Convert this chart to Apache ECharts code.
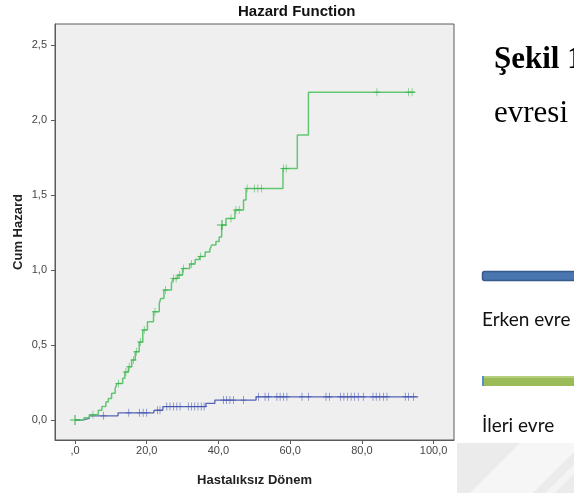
<!DOCTYPE html>
<html>
<head>
<meta charset="utf-8">
<script src="https://cdn.jsdelivr.net/npm/echarts@6/dist/echarts.min.js"></script>
<style>
html,body{margin:0;padding:0;background:#fff;}
#c{width:574px;height:493px;}
</style>
</head>
<body>
<div id="c"></div>
<script>
// ---- data ----
const chartTitle = 'Hazard Function';
const xName = 'Hastalıksız Dönem';
const yName = 'Cum Hazard';
const xTickValues = [0, 20, 40, 60, 80, 100];
const xTickLabels = [',0', '20,0', '40,0', '60,0', '80,0', '100,0'];
const yTickValues = [0, 0.5, 1.0, 1.5, 2.0, 2.5];
const yTickLabels = ['0,0', '0,5', '1,0', '1,5', '2,0', '2,5'];

// Erken evre (blue) step function: time, cumulative hazard
const blueT = [0, 2, 4, 12, 22, 24.5, 36.5, 39, 50.5, 95.7];
const blueH = [0, 0.011, 0.028, 0.048, 0.065, 0.09, 0.111, 0.133, 0.155, 0.155];
const blueCensor = [8, 15, 18, 19, 20, 23, 23.7, 25.6, 26.5, 27.5, 28.4, 29.3, 31.6, 32.5, 33.4, 34.3, 35.2, 36,
  41.4, 42.3, 43.2, 44.2, 47, 51.2, 53, 54, 56.3, 57.2, 58.1, 59.1, 63.3, 65.1, 70, 71,
  74, 75, 76, 77, 78, 79, 80.4, 83.1, 84, 85, 86, 87, 92.1, 93, 94.4];

// İleri evre (green) step function
const greenT = [0, 2.5, 4, 6.5, 7.5, 8.6, 9.3, 10.2, 11.2, 11.7, 13.3, 13.9, 14.9, 15.8, 16.8, 17.9, 18.9, 20.2, 21.9, 23.5,
  23.9, 24.8, 26.9, 27.4, 28.7, 30, 32, 33.5, 34.7, 36.3, 37.6, 38.1, 39.3, 40.2, 40.9, 42.1, 44.6, 47, 47.7, 58, 62, 65.1, 94.9];
const greenH = [0, 0.015, 0.035, 0.065, 0.09, 0.12, 0.144, 0.178, 0.21, 0.244, 0.278, 0.32, 0.355, 0.4, 0.455, 0.52, 0.6, 0.655, 0.722, 0.777,
  0.81, 0.867, 0.91, 0.944, 0.967, 1.01, 1.04, 1.07, 1.09, 1.12, 1.135, 1.167, 1.19, 1.22, 1.3, 1.344, 1.4, 1.467, 1.544, 1.677, 1.9, 2.185, 2.185];
const greenCensor = [5, 12.1, 14.2, 15.1, 16.3, 17.1, 18.2, 19.3, 22.3, 25.2, 27.5, 28.2, 29.2, 30.3, 32.5, 35,
  43.5, 44.9, 45.8, 48, 50, 51, 52, 58.1, 58.9, 84.2, 93, 94];
const greenBigCensor = [0, 41];

const legendNames = ['Erken evre', 'İleri evre'];

// ---- helpers ----
function stepAt(T, H, t) {
  let v = H[0];
  for (let i = 0; i < T.length; i++) { if (T[i] <= t) v = H[i]; }
  return v;
}
const pairs = (T, H) => T.map((t, i) => [t, H[i]]);
const censorPts = (C, T, H) => C.map(t => [t, stepAt(T, H, t)]);

const cross = 'path://M4,0h1v4h4v1h-4v4h-1v-4h-4v-1h4z';

const chart = echarts.init(document.getElementById('c'), null, {renderer: 'canvas'});
chart.setOption({
  backgroundColor: '#ffffff',
  animation: false,
  grid: {left: 55, right: 120, top: 24, bottom: 53, show: true, backgroundColor: '#efefef', borderColor: '#5a5a5a', borderWidth: 1},
  xAxis: {
    type: 'value', min: -5.58, max: 105.7,
    axisLine: {show: true, onZero: false, lineStyle: {color: '#5a5a5a', width: 1}},
    axisTick: {show: true, length: 4, lineStyle: {color: '#5a5a5a'}, customValues: xTickValues},
    axisLabel: {customValues: xTickValues, margin: 5, fontSize: 11, color: '#444', fontFamily: 'Liberation Sans, Arial',
      formatter: v => xTickLabels[xTickValues.indexOf(Math.round(v))] || ''},
    splitLine: {show: false},
    name: xName, nameLocation: 'middle', nameGap: 34, nameMoveOverlap: false,
    nameTextStyle: {fontSize: 13, fontWeight: 'bold', color: '#222', fontFamily: 'Liberation Sans, Arial'}
  },
  yAxis: {
    type: 'value', min: -0.133, max: 2.64,
    axisLine: {show: true, onZero: false, lineStyle: {color: '#5a5a5a', width: 1}},
    axisTick: {show: true, length: 4, lineStyle: {color: '#5a5a5a'}, customValues: yTickValues},
    axisLabel: {customValues: yTickValues, margin: 8, fontSize: 11, color: '#444', fontFamily: 'Liberation Sans, Arial',
      formatter: v => { const i = yTickValues.findIndex(x => Math.abs(x - v) < 1e-6); return i >= 0 ? yTickLabels[i] : ''; }},
    splitLine: {show: false},
    name: yName, nameLocation: 'middle', nameGap: 30, nameMoveOverlap: false,
    nameTextStyle: {fontSize: 13, fontWeight: 'bold', color: '#222', fontFamily: 'Liberation Sans, Arial'}
  },
  series: [
    {name: legendNames[0], type: 'line', step: 'end', data: pairs(blueT, blueH), showSymbol: false,
      lineStyle: {color: '#5564b8', width: 1.3}, z: 3},
    {type: 'scatter', data: censorPts(blueCensor, blueT, blueH), symbol: cross, symbolSize: [6, 8],
      itemStyle: {color: '#4454b0'}, z: 4},
    {name: legendNames[1], type: 'line', step: 'end', data: pairs(greenT, greenH), showSymbol: false,
      lineStyle: {color: '#62c770', width: 1.5}, z: 3},
    {type: 'scatter', data: censorPts(greenCensor, greenT, greenH), symbol: cross, symbolSize: [6, 8],
      itemStyle: {color: '#3bb34e'}, z: 4},
    {type: 'scatter', data: censorPts(greenBigCensor, greenT, greenH), symbol: cross, symbolSize: [10, 10],
      itemStyle: {color: '#22a838'}, z: 5}
  ],
  graphic: [
    {type: 'text', left: 300 - 62, top: 4, style: {text: chartTitle, font: 'bold 15px "Liberation Sans", Arial', fill: '#111'}},
    // slide background (bottom right)
    {type: 'rect', shape: {x: 457, y: 443, width: 117, height: 50}, style: {fill: '#ebebeb'}, silent: true},
    {type: 'polygon', shape: {points: [[470, 493], [520, 443], [574, 443], [574, 452], [533, 493]]}, style: {fill: '#f6f6f6'}, silent: true},
    {type: 'polygon', shape: {points: [[545, 493], [574, 464], [574, 474], [555, 493]]}, style: {fill: '#f4f4f4'}, silent: true},
    // slide text
    {type: 'text', left: 494, top: 44, style: {text: 'Şekil 1', font: 'bold 31px "Liberation Serif", "Times New Roman", serif', fill: '#000'}},
    {type: 'text', left: 494, top: 98, style: {text: 'evresi', font: '31px "Liberation Serif", "Times New Roman", serif', fill: '#000'}},
    // legend bars
    {type: 'rect', shape: {x: 482.5, y: 271.5, width: 100, height: 9, r: 2}, style: {fill: '#4a76b0', stroke: '#355a8c', lineWidth: 1.5}},
    {type: 'rect', shape: {x: 482, y: 376, width: 100, height: 10}, style: {fill: '#9bbb59'}},
    {type: 'rect', shape: {x: 482, y: 376, width: 100, height: 2}, style: {fill: '#b5cf7f'}},
    {type: 'rect', shape: {x: 482, y: 376, width: 2, height: 10}, style: {fill: '#5b8fc9'}},
    {type: 'text', left: 482, top: 310, style: {text: legendNames[0], font: '19px Lato, "Open Sans", sans-serif', fill: '#111'}},
    {type: 'text', left: 482, top: 416, style: {text: legendNames[1], font: '19px Lato, "Open Sans", sans-serif', fill: '#111'}}
  ]
});
</script>
</body>
</html>
